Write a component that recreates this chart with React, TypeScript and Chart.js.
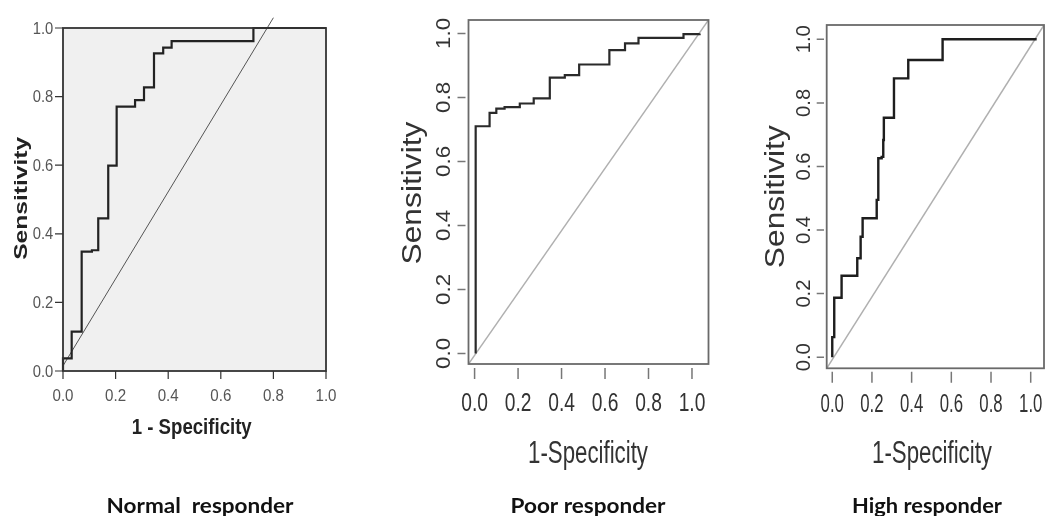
import React, { useEffect, useRef } from 'react';
import { Chart, registerables } from 'chart.js';

Chart.register(...registerables);

// ---------- data ----------
const tickValues = [0, 0.2, 0.4, 0.6, 0.8, 1.0];
const tickLabels = ['0.0', '0.2', '0.4', '0.6', '0.8', '1.0'];

const normalFpr = [0, 0, 0.033, 0.071, 0.11, 0.134, 0.134, 0.172, 0.204, 0.274, 0.308, 0.346, 0.381, 0.413, 0.724, 1.0];
const normalTpr = [0, 0.037, 0.115, 0.348, 0.352, 0.365, 0.445, 0.599, 0.771, 0.79, 0.827, 0.926, 0.943, 0.962, 1.0, 1.0];
const normalRefX = [0.0, 0.8];
const normalRefY = [0.015, 1.03];

const poorFpr = [0.005, 0.005, 0.069, 0.1, 0.138, 0.208, 0.272, 0.346, 0.415, 0.481, 0.62, 0.692, 0.754, 0.961, 1.035];
const poorTpr = [0, 0.71, 0.752, 0.765, 0.77, 0.781, 0.797, 0.862, 0.87, 0.903, 0.948, 0.969, 0.986, 0.998, 1.0];
const poorRefX = [-0.028, 1.076];
const poorRefY = [-0.033, 1.042];

const highFpr = [0, 0, 0.01, 0.047, 0.126, 0.143, 0.153, 0.207, 0.224, 0.232, 0.249, 0.257, 0.26, 0.282, 0.311, 0.311, 0.383, 0.556, 1.03];
const highTpr = [0, 0.063, 0.187, 0.256, 0.311, 0.379, 0.437, 0.437, 0.495, 0.626, 0.63, 0.683, 0.753, 0.753, 0.814, 0.877, 0.935, 1.0, 1.0];
const highRefX = [-0.028, 1.067];
const highRefY = [-0.035, 1.045];

const panelTitles = ['Normal  responder', 'Poor responder', 'High responder'];
const xTitles = ['1 - Specificity', '1-Specificity', '1-Specificity'];
const yTitle = 'Sensitivity';

// ---------- drawing helpers ----------
const SANS = '"Liberation Sans", Arial, "DejaVu Sans", sans-serif';

type FitOpts = { rot?: number; weight?: string; family?: string; color?: string; ref?: string };

function drawFit(
  ctx: CanvasRenderingContext2D,
  text: string,
  cx: number,
  cy: number,
  len: number,
  cap: number,
  o: FitOpts = {}
) {
  const base = 40;
  ctx.save();
  ctx.translate(cx, cy);
  if (o.rot) ctx.rotate(o.rot);
  ctx.font = `${o.weight || 'normal'} ${base}px ${o.family || SANS}`;
  const w0 = ctx.measureText(o.ref || text).width;
  const c0 = ctx.measureText('H').actualBoundingBoxAscent || base * 0.716;
  ctx.scale(len / w0, cap / c0);
  ctx.textAlign = 'center';
  ctx.textBaseline = 'alphabetic';
  ctx.fillStyle = o.color || '#000';
  ctx.fillText(text, 0, c0 / 2);
  ctx.restore();
}

type Panel = {
  fpr: number[];
  tpr: number[];
  refX: number[];
  refY: number[];
  area: { l: number; t: number; r: number; b: number };
  xMin: number; xMax: number; yMin: number; yMax: number;
  bg: string | null;
  curveColor: string; curveWidth: number;
  refColor: string; refWidth: number; refClip: boolean;
  boxColor: string; boxWidth: number;
  tickColor: string; tickWidth: number;
  xTick: [number, number]; yTick: [number, number];
  labColor: string;
  xLab: { cy: number; len: number; cap: number };
  yLab: { cx: number; len: number; cap: number; rot: boolean };
  xTitle: { text: string; cx: number; cy: number; len: number; cap: number; weight: string; color: string };
  yTitle: { cx: number; cy: number; len: number; cap: number; weight: string; color: string };
  title: { text: string; cx: number; cy: number; len: number; cap: number };
};

const panels: Panel[] = [
  {
    fpr: normalFpr, tpr: normalTpr, refX: normalRefX, refY: normalRefY,
    area: { l: 63, t: 28, r: 326, b: 371 },
    xMin: 0, xMax: 1, yMin: 0, yMax: 1,
    bg: '#f0f0f0',
    curveColor: '#222', curveWidth: 2.2,
    refColor: '#555', refWidth: 1, refClip: false,
    boxColor: '#333', boxWidth: 1.8,
    tickColor: '#333', tickWidth: 1.2,
    xTick: [0, 8], yTick: [-8, 0],
    labColor: '#555',
    xLab: { cy: 395, len: 21, cap: 11 },
    yLab: { cx: 43, len: 20.5, cap: 11, rot: false },
    xTitle: { text: xTitles[0], cx: 191.7, cy: 426, len: 120, cap: 15, weight: 'bold', color: '#222' },
    yTitle: { cx: 20, cy: 198.3, len: 123, cap: 13, weight: 'bold', color: '#222' },
    title: { text: panelTitles[0], cx: 200, cy: 505, len: 187, cap: 15 },
  },
  {
    fpr: poorFpr, tpr: poorTpr, refX: poorRefX, refY: poorRefY,
    area: { l: 468.5, t: 20, r: 708.5, b: 364 },
    xMin: -0.028, xMax: 1.076, yMin: -0.033, yMax: 1.042,
    bg: null,
    curveColor: '#2a2a2a', curveWidth: 2.2,
    refColor: '#b0b0b0', refWidth: 1.5, refClip: true,
    boxColor: '#6a6a6a', boxWidth: 1.8,
    tickColor: '#777', tickWidth: 1.5,
    xTick: [4, 15], yTick: [-11, -3],
    labColor: '#333',
    xLab: { cy: 402.5, len: 26.7, cap: 17.5 },
    yLab: { cx: 443, len: 31, cap: 14, rot: true },
    xTitle: { text: xTitles[1], cx: 588, cy: 452, len: 120, cap: 22, weight: 'normal', color: '#333' },
    yTitle: { cx: 411.7, cy: 193, len: 143, cap: 19, weight: 'normal', color: '#333' },
    title: { text: panelTitles[1], cx: 588, cy: 505, len: 155, cap: 15 },
  },
  {
    fpr: highFpr, tpr: highTpr, refX: highRefX, refY: highRefY,
    area: { l: 826.7, t: 25, r: 1044, b: 368.3 },
    xMin: -0.028, xMax: 1.067, yMin: -0.035, yMax: 1.045,
    bg: null,
    curveColor: '#1e1e1e', curveWidth: 2.4,
    refColor: '#b0b0b0', refWidth: 1.5, refClip: true,
    boxColor: '#6a6a6a', boxWidth: 1.8,
    tickColor: '#777', tickWidth: 1.5,
    xTick: [3.5, 14.5], yTick: [-10, -2.7],
    labColor: '#333',
    xLab: { cy: 403, len: 23.3, cap: 18 },
    yLab: { cx: 803, len: 28, cap: 14, rot: true },
    xTitle: { text: xTitles[2], cx: 932, cy: 452, len: 120, cap: 22, weight: 'normal', color: '#333' },
    yTitle: { cx: 774, cy: 196.7, len: 143, cap: 19, weight: 'normal', color: '#333' },
    title: { text: panelTitles[2], cx: 927, cy: 505, len: 150, cap: 15 },
  },
];

const W = 1045;
const H = 516;

function makeChart(canvas: HTMLCanvasElement, p: Panel) {
  const decor = {
    id: 'decor',
    beforeDatasetsDraw(chart: any) {
      const { ctx, chartArea: a } = chart;
      if (p.bg) {
        ctx.save();
        ctx.fillStyle = p.bg;
        ctx.fillRect(a.left, a.top, a.right - a.left, a.bottom - a.top);
        ctx.restore();
      }
    },
    afterDatasetsDraw(chart: any) {
      const { ctx, chartArea: a } = chart;
      const xs = chart.scales.x;
      const ys = chart.scales.y;
      ctx.save();
      ctx.strokeStyle = p.boxColor;
      ctx.lineWidth = p.boxWidth;
      ctx.strokeRect(a.left, a.top, a.right - a.left, a.bottom - a.top);
      ctx.strokeStyle = p.tickColor;
      ctx.lineWidth = p.tickWidth;
      ctx.beginPath();
      tickValues.forEach((v) => {
        const x = xs.getPixelForValue(v);
        ctx.moveTo(x, a.bottom + p.xTick[0]);
        ctx.lineTo(x, a.bottom + p.xTick[1]);
        const y = ys.getPixelForValue(v);
        ctx.moveTo(a.left + p.yTick[0], y);
        ctx.lineTo(a.left + p.yTick[1], y);
      });
      ctx.stroke();
      ctx.restore();
      tickValues.forEach((v, i) => {
        drawFit(ctx, tickLabels[i], xs.getPixelForValue(v), p.xLab.cy, p.xLab.len, p.xLab.cap, {
          color: p.labColor, ref: '0.0',
        });
        drawFit(ctx, tickLabels[i], p.yLab.cx, ys.getPixelForValue(v), p.yLab.len, p.yLab.cap, {
          color: p.labColor, ref: '0.0', rot: p.yLab.rot ? -Math.PI / 2 : 0,
        });
      });
      const xt = p.xTitle;
      drawFit(ctx, xt.text, xt.cx, xt.cy, xt.len, xt.cap, { weight: xt.weight, color: xt.color });
      const yt = p.yTitle;
      drawFit(ctx, yTitle, yt.cx, yt.cy, yt.len, yt.cap, { weight: yt.weight, color: yt.color, rot: -Math.PI / 2 });
      const t = p.title;
      drawFit(ctx, t.text, t.cx, t.cy, t.len, t.cap, {
        weight: 'bold', color: '#111', family: 'Lato, "Open Sans", "Liberation Sans", sans-serif',
      });
    },
  };

  return new Chart(canvas, {
    type: 'scatter',
    data: {
      datasets: [
        {
          data: p.fpr.map((x, i) => ({ x, y: p.tpr[i] })),
          showLine: true,
          stepped: 'before',
          borderColor: p.curveColor,
          borderWidth: p.curveWidth,
          pointRadius: 0,
          fill: false,
          clip: false,
        } as any,
        {
          data: p.refX.map((x, i) => ({ x, y: p.refY[i] })),
          showLine: true,
          borderColor: p.refColor,
          borderWidth: p.refWidth,
          pointRadius: 0,
          fill: false,
          clip: p.refClip ? 0 : false,
        } as any,
      ],
    },
    options: {
      responsive: false,
      animation: false,
      events: [],
      layout: {
        padding: { left: p.area.l, top: p.area.t, right: W - p.area.r, bottom: H - p.area.b },
      },
      plugins: { legend: { display: false }, tooltip: { enabled: false }, title: { display: false } },
      scales: {
        x: { type: 'linear', display: false, min: p.xMin, max: p.xMax },
        y: { type: 'linear', display: false, min: p.yMin, max: p.yMax },
      },
    },
    plugins: [decor],
  });
}

function RocPanel({ panel }: { panel: Panel }) {
  const ref = useRef<HTMLCanvasElement | null>(null);
  useEffect(() => {
    if (!ref.current) return;
    const chart = makeChart(ref.current, panel);
    return () => chart.destroy();
  }, [panel]);
  return (
    <canvas
      ref={ref}
      width={W}
      height={H}
      style={{ position: 'absolute', left: 0, top: 0, width: W, height: H }}
    />
  );
}

export default function App() {
  return (
    <div
      style={{
        position: 'fixed',
        left: 0,
        top: 0,
        width: W,
        height: H,
        background: '#ffffff',
        overflow: 'hidden',
      }}
    >
      {panels.map((p, i) => (
        <RocPanel key={i} panel={p} />
      ))}
    </div>
  );
}
